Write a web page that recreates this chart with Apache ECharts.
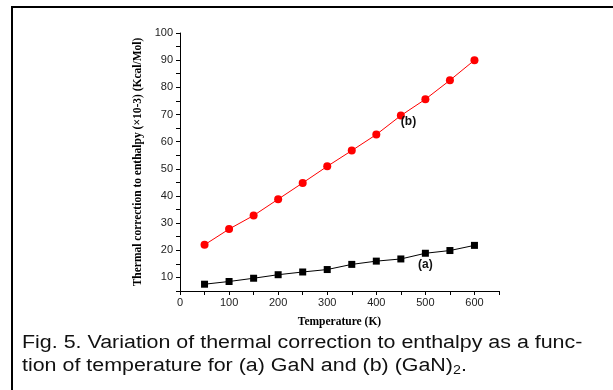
<!DOCTYPE html>
<html>
<head>
<meta charset="utf-8">
<script src="https://cdn.jsdelivr.net/npm/echarts@6/dist/echarts.min.js"></script>
<style>
  html, body { margin: 0; padding: 0; background: #fff; }
  #wrap { position: relative; width: 613px; height: 390px; overflow: hidden; }
  #chart { position: absolute; left: 0; top: 0; width: 613px; height: 390px; }
  #frame {
    position: absolute; left: 11px; top: 6px; width: 620px; height: 400px;
    border-left: 2px solid #000; border-top: 2px solid #000;
    pointer-events: none;
  }
  #caption {
    position: absolute; left: 22px; top: 331px; width: 600px;
    font-family: 'Liberation Sans', Arial, sans-serif; font-size: 18px;
    line-height: 23px; color: #111; white-space: nowrap;
    transform: scaleX(1.19); transform-origin: 0 0;
  }
  #caption sub { font-size: 12px; vertical-align: -3px; line-height: 0; }
</style>
</head>
<body>
<div id="wrap">
  <div id="chart"></div>
  <div id="frame"></div>
  <div id="caption">Fig. 5. Variation of thermal correction to enthalpy as a func-<br>tion of temperature for (a) GaN and (b) (GaN)<sub>2</sub>.</div>
</div>
<script>
// temperatures (K)
const temps = [50, 100, 150, 200, 250, 300, 350, 400, 450, 500, 550, 600];
// (a) GaN
const seriesA = [7.5, 8.5, 9.7, 11, 12, 12.9, 14.8, 16, 16.8, 18.9, 19.9, 21.8];
// (b) (GaN)2
const seriesB = [22, 27.8, 32.8, 38.8, 44.8, 50.9, 56.7, 62.6, 69.6, 75.6, 82.6, 90];
const labelA = { text: '(a)', at: 500 };
const labelB = { text: '(b)', at: 450 };

const chart = echarts.init(document.getElementById('chart'), null, { renderer: 'canvas' });

const tickFont = { color: '#222', fontFamily: 'Liberation Sans, Arial, sans-serif', fontSize: 11 };
const nameFont = { color: '#000', fontFamily: 'Liberation Serif, Times New Roman, serif', fontSize: 11.5, fontWeight: 'bold' };

function buildData(values, label, pos) {
  return temps.map((t, i) => {
    const d = { value: [t, values[i]] };
    if (t === label.at) {
      d.label = Object.assign({
        show: true,
        formatter: label.text,
        color: '#111',
        fontFamily: 'Liberation Sans, Arial, sans-serif',
        fontSize: 12,
        fontWeight: 'bold'
      }, pos);
    }
    return d;
  });
}

chart.setOption({
  backgroundColor: '#fff',
  animation: false,
  grid: { left: 180, right: 114, top: 33, bottom: 99, containLabel: false },
  xAxis: {
    type: 'value',
    min: 0,
    max: 650,
    interval: 50,
    name: 'Temperature (K)',
    nameLocation: 'middle',
    nameGap: 25,
    nameTextStyle: nameFont,
    axisLine: { onZero: false, lineStyle: { color: '#000', width: 1 } },
    axisTick: { show: true, length: 4, lineStyle: { color: '#000' } },
    axisLabel: Object.assign({ margin: 6, formatter: (v) => (v % 100 === 0 ? String(v) : '') }, tickFont),
    splitLine: { show: false }
  },
  yAxis: {
    type: 'value',
    min: 5,
    max: 100,
    interval: 5,
    name: 'Thermal correction to enthalpy (\u00d710-3) (Kcal/Mol)',
    nameLocation: 'middle',
    nameGap: 25,
    nameTextStyle: nameFont,
    axisLine: { show: true, onZero: false, lineStyle: { color: '#000', width: 1 } },
    axisTick: { show: true, length: 4, lineStyle: { color: '#000' } },
    axisLabel: Object.assign({ margin: 7, formatter: (v) => (v % 10 === 0 ? String(v) : '') }, tickFont),
    splitLine: { show: false }
  },
  series: [
    {
      name: '(a) GaN',
      type: 'line',
      data: buildData(seriesA, labelA, { position: 'bottom', distance: 2 }),
      symbol: 'rect',
      symbolSize: 7,
      itemStyle: { color: '#000' },
      lineStyle: { color: '#000', width: 1 },
      z: 3
    },
    {
      name: '(b) (GaN)2',
      type: 'line',
      data: buildData(seriesB, labelB, { position: [4, 4] }),
      symbol: 'circle',
      symbolSize: 8,
      itemStyle: { color: '#ff0000' },
      lineStyle: { color: '#ff0000', width: 1 },
      z: 3
    }
  ]
});
</script>
</body>
</html>
